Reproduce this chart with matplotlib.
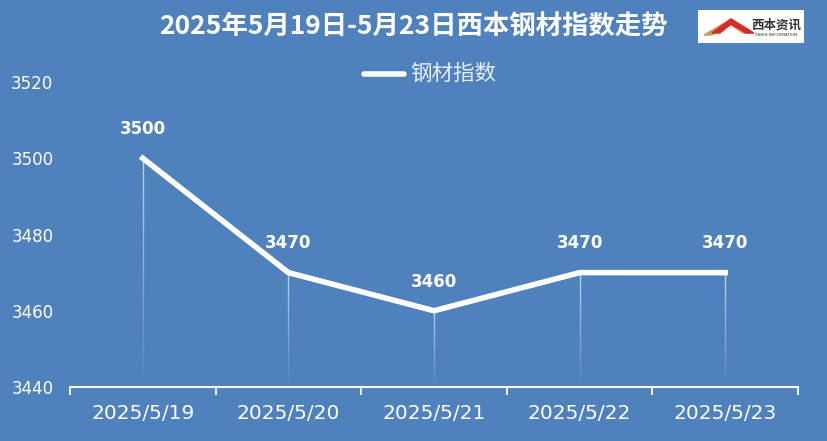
import matplotlib
matplotlib.use("Agg")
import matplotlib.pyplot as plt
from matplotlib.patches import Rectangle, Polygon
import numpy as np

plt.rcParams['font.family'] = ['Noto Sans CJK SC', 'DejaVu Sans']

dates = ["2025/5/19", "2025/5/20", "2025/5/21", "2025/5/22", "2025/5/23"]
values = [3500, 3470, 3460, 3470, 3470]
series_name = "钢材指数"
title = "2025年5月19日-5月23日西本钢材指数走势"
yticks = [3440, 3460, 3480, 3500, 3520]

bg = "#4F81BD"
W, H = 828, 441
fig = plt.figure(figsize=(W / 100, H / 100), dpi=100, facecolor=bg)
ax = fig.add_axes([70 / W, (H - 387) / H, (798 - 70) / W, (387 - 82) / H])
ax.set_facecolor(bg)

x = np.arange(len(dates))
ax.plot(x, values, color="white", lw=4, solid_joinstyle="miter", zorder=3)

# fading drop lines
for xi, v in zip(x, values):
    n = 40
    ys = np.linspace(3440, v, n + 1)
    for k in range(n):
        a = 0.03 + 0.65 * (k / n)
        ax.plot([xi, xi], [ys[k], ys[k + 1]], color="white", lw=1, alpha=a, zorder=2, solid_capstyle="butt")

for xi, v in zip(x, values):
    ax.annotate(str(v), (xi, v), xytext=(0, 21), textcoords="offset points",
                ha="center", va="center", color="white", fontsize=12, fontweight="bold",
                family=["DejaVu Sans"])

ax.set_xlim(-0.5, len(dates) - 0.5)
ax.set_ylim(3440, 3520)
ax.set_yticks(yticks)
ax.set_yticklabels([str(t) for t in yticks], color="white", fontsize=12, family=["DejaVu Sans"])
ax.tick_params(axis="y", length=0, pad=12)

ax.set_xticks(x)
ax.set_xticklabels(dates, color="white", fontsize=14.5, family=["DejaVu Sans"])
ax.tick_params(axis="x", length=0, pad=12)
ax.set_xticks(np.arange(-0.5, len(dates)), minor=True)
ax.tick_params(axis="x", which="minor", length=6, color="white", width=1.3, direction="out")

for s in ["top", "right", "left"]:
    ax.spines[s].set_visible(False)
ax.spines["bottom"].set_color("white")
ax.spines["bottom"].set_linewidth(1.5)

# title
fig.text(413 / W, 1 - 27 / H, title, ha="center", va="center", color="white",
         fontsize=19, fontweight="bold")

# legend
fig.add_artist(plt.Line2D([364 / W, 404 / W], [1 - 74 / H] * 2, color="white", lw=4,
                          solid_capstyle="round", transform=fig.transFigure))
fig.text(410 / W, 1 - 74 / H, series_name, ha="left", va="center", color="#E8EEF7", fontsize=15.5)

# logo
lax = fig.add_axes([698 / W, 1 - 43 / H, 106 / W, 33 / H])
lax.set_xlim(0, 106)
lax.set_ylim(0, 33)
lax.axis("off")
lax.add_patch(Rectangle((0, 0), 106, 33, color="white"))
lax.add_patch(Polygon([[6, 8], [33, 24], [55, 10], [45, 10], [33, 18], [14, 8]], color="#C8A062"))
lax.add_patch(Polygon([[14, 10], [33, 24], [56, 10], [48, 10], [33, 19], [22, 10]], color="#D42A2A"))
lax.text(78, 18, "西本资讯", ha="center", va="center", fontsize=9, fontweight="bold", color="#333333")
lax.text(78, 8, "XIBEN INFORMATION", ha="center", va="center", fontsize=3, color="#333333",
         family=["DejaVu Sans"])

fig.savefig("out.png", dpi=100, facecolor=bg)
